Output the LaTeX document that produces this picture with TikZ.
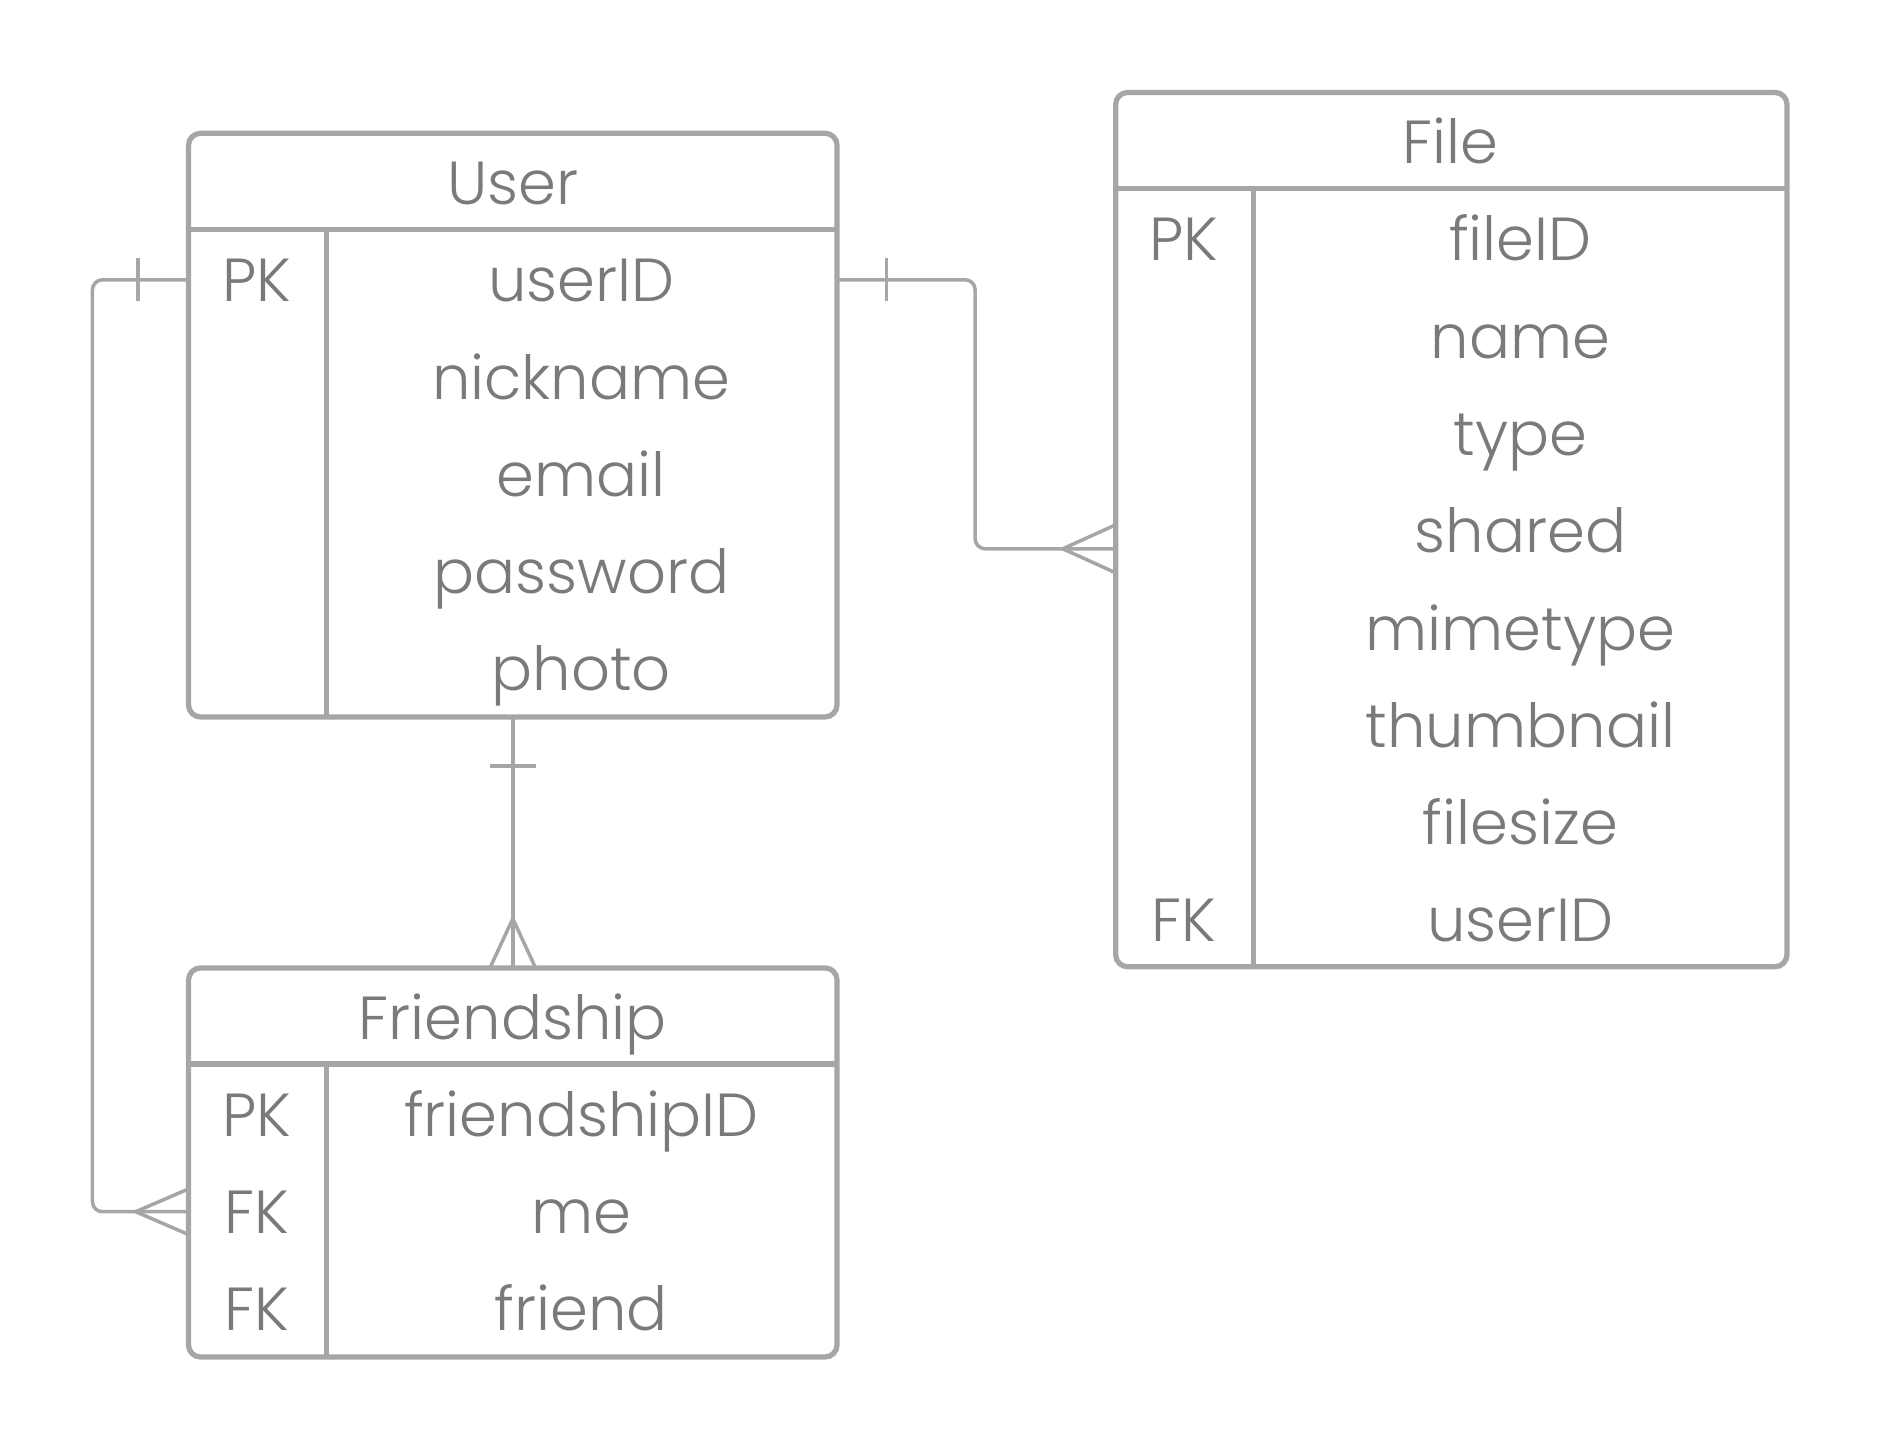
\documentclass[tikz,border=0pt]{standalone}
\usepackage{fontspec}
\setmainfont{Poppins Light}
\usetikzlibrary{calc}

\definecolor{erline}{HTML}{A6A6A6}
\definecolor{ertext}{HTML}{7A7A7A}

\tikzset{
  tbl/.style={draw=erline, line width=1.5pt, rounded corners=1.2mm},
  sep/.style={draw=erline, line width=1.5pt},
  rel/.style={draw=erline, line width=1pt, rounded corners=1mm},
  lbl/.style={text=ertext, font=\fontsize{17.3}{20}\selectfont, inner sep=0pt,
    text height=4.4mm, text depth=0pt},
}

\begin{document}
\begin{tikzpicture}[x=0.12009mm, y=-0.12009mm]
\useasboundingbox (0,0) rectangle (1568,1209);

% User
\draw[tbl] (157,111) coordinate (user-nw) rectangle (697,597) coordinate (user-se);
\draw[sep] (157,191) -- (697,191) (272,191) -- (272,597);
\node[lbl] (user) at (427,152) {User};
\node[lbl] (user-pk) at (214,233) {PK};
\foreach \t [count=\i] in {userID,nickname,email,password,photo}
  \node[lbl] (user-\i) at (484,152+81*\i) {\t};

% File
\draw[tbl] (929,77) coordinate (file-nw) rectangle (1488,805) coordinate (file-se);
\draw[sep] (929,157) -- (1488,157) (1044,157) -- (1044,805);
\node[lbl] (file) at (1208,118) {File};
\node[lbl] (file-pk) at (986,199) {PK};
\node[lbl] (file-fk) at (986,766) {FK};
\foreach \t [count=\i] in {fileID,name,type,shared,mimetype,thumbnail,filesize,userID}
  \node[lbl] (file-\i) at (1266,118+81*\i) {\t};

% Friendship
\draw[tbl] (157,806) coordinate (fr-nw) rectangle (697,1130) coordinate (fr-se);
\draw[sep] (157,886) -- (697,886) (272,886) -- (272,1130);
\node[lbl] (fr) at (427,847) {Friendship};
\node[lbl] (fr-pk) at (214,928) {PK};
\node[lbl] (fr-fk1) at (214,1009) {FK};
\node[lbl] (fr-fk2) at (214,1090) {FK};
\foreach \t [count=\i] in {friendshipID,me,friend}
  \node[lbl] (fr-\i) at (484,847+81*\i) {\t};

% User -- Friendship (me)
\draw[rel] (user-nw |- user-1) -- ++(-80,0) |- (fr-nw |- fr-2);
\draw[rel] ($(user-nw |- user-1)+(-42,-18)$) -- ++(0,36);
\draw[rel] ($(fr-nw |- fr-2)+(-44,0)$) -- ++(44,-19) ++(-44,19) -- ++(44,19);

% User -- File
\coordinate (file-in) at ($(file-nw |- file-4)+(0,15)$);
\draw[rel] (user-se |- user-1) -- ++(115,0) |- (file-in);
\draw[rel] ($(user-se |- user-1)+(41,-18)$) -- ++(0,36);
\draw[rel] ($(file-in)+(-44,0)$) -- ++(44,-20) ++(-44,20) -- ++(44,20);

% User -- Friendship
\draw[rel] (user |- user-se) -- (fr |- fr-nw);
\draw[rel] ($(user |- user-se)+(-19,41)$) -- ++(38,0);
\draw[rel] ($(fr |- fr-nw)+(0,-41)$) -- ++(-19,41) ++(19,-41) -- ++(19,41);
\end{tikzpicture}
\end{document}
